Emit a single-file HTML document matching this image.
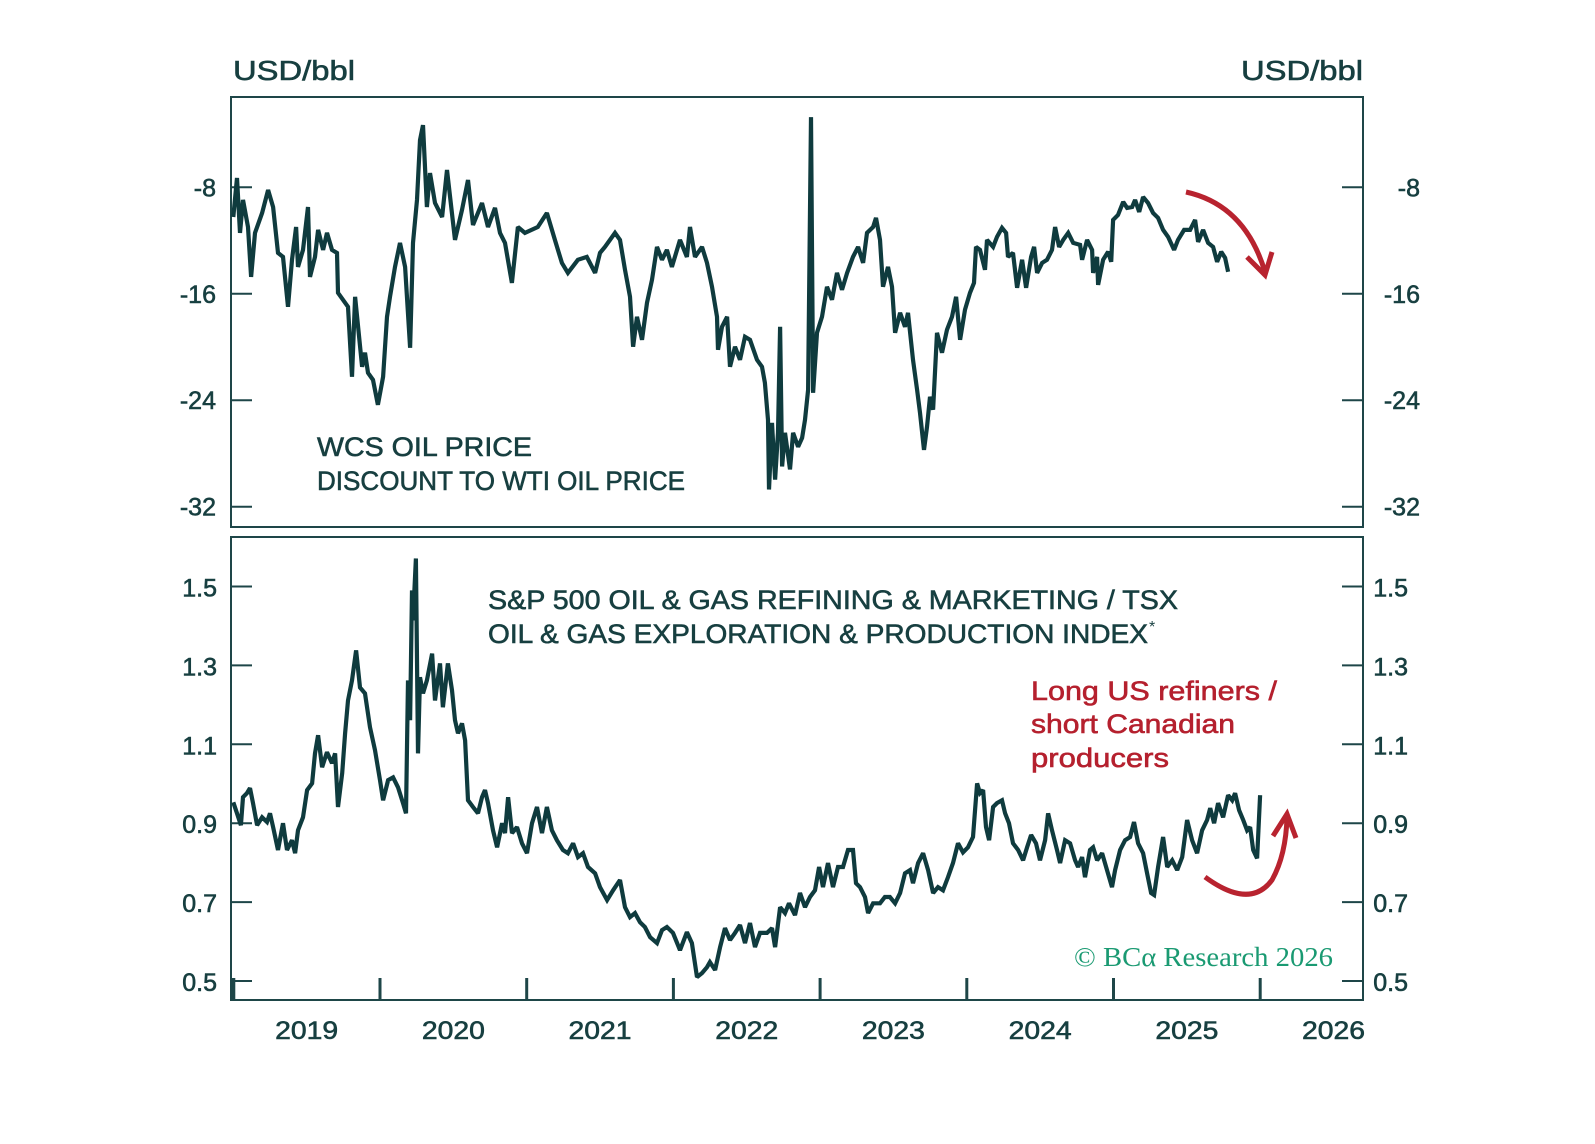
<!DOCTYPE html>
<html><head><meta charset="utf-8">
<style>
html,body{margin:0;padding:0;background:#fff;}
svg{display:block;font-family:"Liberation Sans",sans-serif;}
#g-text text, #g-axes text{stroke-width:0.6px;}
</style></head>
<body>
<svg id="chart" width="1595" height="1144" viewBox="0 0 1595 1144" xmlns="http://www.w3.org/2000/svg">
<rect x="0" y="0" width="1595" height="1144" fill="#fff"/>
<g id="g-frames"></g>
<g id="g-axes"></g>
<g id="g-series"></g>
<g id="g-text">
<text x="233" y="80" font-size="28" fill="#173f40" stroke="#173f40" textLength="122" lengthAdjust="spacingAndGlyphs">USD/bbl</text>
<text x="1241" y="80" font-size="28" fill="#173f40" stroke="#173f40" textLength="122" lengthAdjust="spacingAndGlyphs">USD/bbl</text>
<text x="317" y="456" font-size="27" fill="#173f40" stroke="#173f40" textLength="215" lengthAdjust="spacingAndGlyphs">WCS OIL PRICE</text>
<text x="317" y="490" font-size="27" fill="#173f40" stroke="#173f40" textLength="368" lengthAdjust="spacingAndGlyphs">DISCOUNT TO WTI OIL PRICE</text>
<text x="488" y="609" font-size="27" fill="#173f40" stroke="#173f40" textLength="690" lengthAdjust="spacingAndGlyphs">S&amp;P 500 OIL &amp; GAS REFINING &amp; MARKETING / TSX</text>
<text x="488" y="643" font-size="27" fill="#173f40" stroke="#173f40" textLength="660" lengthAdjust="spacingAndGlyphs">OIL &amp; GAS EXPLORATION &amp; PRODUCTION INDEX</text>
<text x="1149" y="632" font-size="16" fill="#173f40">*</text>
<text x="1031" y="700" font-size="27" fill="#b5202e" stroke="#b5202e" textLength="246" lengthAdjust="spacingAndGlyphs">Long US refiners /</text>
<text x="1031" y="733" font-size="27" fill="#b5202e" stroke="#b5202e" textLength="204" lengthAdjust="spacingAndGlyphs">short Canadian</text>
<text x="1031" y="767" font-size="27" fill="#b5202e" stroke="#b5202e" textLength="138" lengthAdjust="spacingAndGlyphs">producers</text>
<text x="1074" y="966" font-size="27" fill="#1a9a72" font-family="Liberation Serif, serif" textLength="259" lengthAdjust="spacingAndGlyphs">© BCα Research 2026</text>
</g>
<g id="g-arrows" fill="none" stroke="#b8232f" stroke-width="5" stroke-linecap="butt">
<path d="M1186,192 Q1245,205 1265,272"/>
<path d="M1247,257 L1265,275 L1272,252"/>
<path d="M1205,877 Q1250,910 1272,880 Q1286,855 1287,817"/>
<path d="M1273,836 L1287,814 L1296,838"/>
</g>
</svg>
<script>
// ---- data ----
const topDates = [2019.000,2019.025,2019.046,2019.066,2019.100,2019.121,2019.148,2019.196,2019.237,2019.271,2019.305,2019.339,2019.373,2019.400,2019.428,2019.441,2019.475,2019.509,2019.523,2019.557,2019.578,2019.612,2019.639,2019.673,2019.707,2019.714,2019.782,2019.809,2019.830,2019.878,2019.898,2019.918,2019.952,2019.986,2020.021,2020.048,2020.068,2020.102,2020.136,2020.171,2020.205,2020.225,2020.252,2020.273,2020.293,2020.320,2020.341,2020.375,2020.423,2020.457,2020.511,2020.559,2020.600,2020.634,2020.695,2020.736,2020.784,2020.818,2020.852,2020.899,2020.940,2020.988,2021.076,2021.138,2021.192,2021.240,2021.281,2021.349,2021.410,2021.466,2021.500,2021.534,2021.602,2021.636,2021.670,2021.704,2021.725,2021.752,2021.786,2021.820,2021.854,2021.888,2021.922,2021.956,2021.990,2022.045,2022.092,2022.113,2022.147,2022.195,2022.229,2022.263,2022.297,2022.304,2022.331,2022.366,2022.386,2022.420,2022.454,2022.488,2022.522,2022.570,2022.604,2022.624,2022.645,2022.652,2022.672,2022.693,2022.713,2022.727,2022.741,2022.761,2022.795,2022.816,2022.850,2022.877,2022.897,2022.918,2022.938,2022.952,2022.979,2023.013,2023.047,2023.081,2023.115,2023.149,2023.184,2023.224,2023.259,2023.293,2023.320,2023.361,2023.381,2023.408,2023.429,2023.463,2023.490,2023.511,2023.545,2023.579,2023.599,2023.633,2023.661,2023.681,2023.708,2023.729,2023.749,2023.770,2023.797,2023.831,2023.865,2023.899,2023.927,2023.954,2023.988,2024.022,2024.049,2024.063,2024.090,2024.124,2024.138,2024.179,2024.206,2024.240,2024.268,2024.281,2024.315,2024.343,2024.377,2024.404,2024.438,2024.459,2024.479,2024.513,2024.547,2024.581,2024.602,2024.629,2024.657,2024.691,2024.725,2024.772,2024.786,2024.820,2024.854,2024.861,2024.888,2024.895,2024.929,2024.963,2024.984,2024.997,2025.031,2025.066,2025.093,2025.127,2025.147,2025.175,2025.202,2025.236,2025.270,2025.304,2025.338,2025.372,2025.413,2025.440,2025.481,2025.522,2025.556,2025.577,2025.611,2025.645,2025.679,2025.706,2025.734,2025.761,2025.781];
const topValues = [-10.23,-7.30,-11.43,-8.95,-10.98,-14.73,-11.43,-9.93,-8.20,-9.48,-12.93,-13.23,-16.98,-13.45,-10.98,-13.98,-12.70,-9.48,-14.73,-13.23,-11.20,-12.70,-11.43,-12.70,-12.93,-15.93,-16.98,-22.24,-16.23,-21.49,-20.43,-21.94,-22.47,-24.34,-22.24,-17.73,-16.23,-13.98,-12.18,-13.98,-20.06,-12.18,-8.95,-4.45,-3.33,-9.48,-6.93,-9.18,-10.23,-6.70,-11.95,-9.70,-7.45,-10.83,-9.18,-10.98,-9.55,-11.43,-12.18,-15.18,-10.98,-11.43,-10.98,-9.93,-11.95,-13.68,-14.43,-13.45,-13.23,-14.43,-12.93,-12.48,-11.43,-11.95,-14.20,-16.23,-19.98,-17.73,-19.46,-16.68,-14.95,-12.48,-13.45,-12.70,-13.98,-11.95,-13.23,-10.98,-13.23,-12.48,-13.68,-15.48,-17.73,-20.21,-18.48,-17.73,-21.49,-19.98,-20.96,-19.23,-19.46,-20.96,-21.49,-22.69,-25.47,-30.71,-25.70,-29.96,-26.45,-18.48,-28.98,-26.45,-29.20,-26.45,-27.50,-26.83,-25.47,-23.22,-2.73,-23.44,-18.93,-17.73,-15.48,-16.45,-14.43,-15.70,-14.43,-13.23,-12.48,-13.68,-11.43,-10.98,-10.30,-11.95,-15.48,-13.98,-15.48,-18.93,-17.43,-18.48,-17.43,-20.96,-23.22,-24.94,-27.73,-26.00,-23.74,-24.71,-18.93,-20.43,-18.70,-17.73,-16.23,-19.46,-17.20,-15.93,-15.18,-12.48,-12.70,-14.20,-11.95,-12.48,-11.73,-11.05,-11.43,-13.23,-12.93,-15.55,-13.45,-15.55,-13.23,-12.48,-14.43,-13.68,-13.45,-12.70,-10.98,-12.48,-11.95,-11.43,-12.18,-12.33,-13.45,-11.95,-12.70,-14.43,-13.23,-15.33,-13.45,-12.85,-13.60,-10.45,-10.08,-9.10,-9.55,-9.48,-8.95,-9.85,-8.73,-9.18,-9.93,-10.30,-11.20,-11.73,-12.70,-11.95,-11.20,-11.20,-10.45,-12.10,-11.20,-12.18,-12.48,-13.60,-12.85,-13.30,-14.35];
const botDates = [2019.000,2019.025,2019.052,2019.066,2019.093,2019.114,2019.134,2019.162,2019.196,2019.230,2019.250,2019.271,2019.305,2019.339,2019.366,2019.400,2019.421,2019.441,2019.475,2019.503,2019.537,2019.557,2019.578,2019.605,2019.639,2019.673,2019.694,2019.714,2019.742,2019.762,2019.782,2019.809,2019.837,2019.864,2019.898,2019.932,2019.966,2020.000,2020.021,2020.055,2020.089,2020.123,2020.157,2020.177,2020.191,2020.205,2020.218,2020.225,2020.245,2020.259,2020.273,2020.293,2020.320,2020.355,2020.375,2020.409,2020.429,2020.463,2020.491,2020.511,2020.532,2020.559,2020.580,2020.600,2020.634,2020.668,2020.695,2020.716,2020.736,2020.770,2020.798,2020.832,2020.852,2020.873,2020.900,2020.934,2020.968,2021.002,2021.036,2021.070,2021.104,2021.138,2021.172,2021.206,2021.247,2021.281,2021.316,2021.350,2021.384,2021.418,2021.466,2021.500,2021.548,2021.589,2021.636,2021.670,2021.704,2021.738,2021.772,2021.806,2021.841,2021.888,2021.922,2021.956,2021.997,2022.045,2022.092,2022.126,2022.161,2022.195,2022.229,2022.249,2022.284,2022.318,2022.352,2022.386,2022.420,2022.454,2022.488,2022.522,2022.556,2022.590,2022.638,2022.672,2022.693,2022.727,2022.761,2022.788,2022.829,2022.863,2022.897,2022.931,2022.965,2022.993,2023.020,2023.054,2023.088,2023.122,2023.156,2023.190,2023.224,2023.245,2023.272,2023.306,2023.327,2023.361,2023.408,2023.442,2023.476,2023.511,2023.545,2023.579,2023.613,2023.633,2023.668,2023.702,2023.736,2023.770,2023.804,2023.838,2023.872,2023.906,2023.940,2023.974,2024.008,2024.042,2024.070,2024.090,2024.111,2024.131,2024.152,2024.179,2024.206,2024.240,2024.261,2024.288,2024.315,2024.350,2024.384,2024.411,2024.438,2024.472,2024.499,2024.534,2024.554,2024.581,2024.615,2024.636,2024.670,2024.704,2024.738,2024.759,2024.786,2024.806,2024.840,2024.861,2024.888,2024.922,2024.956,2024.990,2025.011,2025.045,2025.079,2025.113,2025.140,2025.168,2025.202,2025.229,2025.256,2025.277,2025.304,2025.338,2025.366,2025.400,2025.434,2025.468,2025.502,2025.536,2025.570,2025.604,2025.638,2025.659,2025.686,2025.713,2025.747,2025.781,2025.809,2025.829,2025.856,2025.884,2025.911,2025.931,2025.952,2025.979,2025.999];
const botValues = [0.953,0.925,0.895,0.966,0.976,0.989,0.951,0.895,0.915,0.903,0.925,0.890,0.832,0.900,0.832,0.857,0.824,0.882,0.915,0.984,1.001,1.077,1.123,1.042,1.080,1.052,1.077,0.941,1.027,1.128,1.211,1.262,1.338,1.244,1.229,1.143,1.085,1.009,0.958,1.009,1.016,0.991,0.951,0.925,1.262,1.161,1.490,1.414,1.571,1.077,1.270,1.229,1.262,1.330,1.211,1.305,1.194,1.305,1.237,1.161,1.128,1.153,1.110,0.958,0.941,0.925,0.966,0.984,0.951,0.882,0.839,0.900,0.875,0.966,0.875,0.890,0.849,0.824,0.900,0.941,0.875,0.941,0.882,0.857,0.832,0.824,0.849,0.814,0.824,0.789,0.773,0.738,0.705,0.730,0.756,0.687,0.662,0.672,0.649,0.637,0.611,0.596,0.629,0.637,0.622,0.578,0.624,0.596,0.510,0.520,0.535,0.548,0.528,0.586,0.634,0.604,0.622,0.642,0.596,0.647,0.586,0.622,0.622,0.634,0.586,0.687,0.672,0.697,0.667,0.723,0.687,0.713,0.730,0.789,0.738,0.799,0.738,0.789,0.789,0.832,0.832,0.748,0.738,0.713,0.672,0.697,0.697,0.713,0.713,0.697,0.723,0.773,0.781,0.748,0.799,0.824,0.781,0.723,0.738,0.730,0.763,0.799,0.849,0.826,0.839,0.865,1.001,0.976,0.984,0.890,0.857,0.941,0.951,0.958,0.925,0.900,0.849,0.832,0.806,0.839,0.870,0.849,0.806,0.857,0.925,0.882,0.832,0.799,0.857,0.849,0.806,0.789,0.814,0.763,0.832,0.839,0.806,0.824,0.781,0.738,0.781,0.832,0.857,0.865,0.903,0.849,0.824,0.773,0.723,0.718,0.789,0.865,0.789,0.806,0.781,0.814,0.908,0.857,0.824,0.882,0.908,0.938,0.900,0.951,0.915,0.971,0.958,0.976,0.933,0.908,0.882,0.890,0.832,0.811,0.971];
const topTicks = [-8,-16,-24,-32];
const topTickLabels = ["-8","-16","-24","-32"];
const botTicks = [1.5,1.3,1.1,0.9,0.7,0.5];
const botTickLabels = ["1.5","1.3","1.1","0.9","0.7","0.5"];
const years = [2019,2020,2021,2022,2023,2024,2025,2026];

// ---- axes ----
const NS = "http://www.w3.org/2000/svg";
const X0 = 231, X1 = 1363;
const TOP = {y0: 97, y1: 527};
const BOT = {y0: 537, y1: 1000};
function xScale(t){ return 233.3 + (t - 2019) * 146.7; }
function yTop(v){ return 187.3 + (-8 - v) * (106.47/8); }
function yBot(v){ return 981 - (v - 0.5) * 394.5; }
const C = "#1e4648";
const TC = "#173f40";
function mk(tag, attrs, parent){
  const e = document.createElementNS(NS, tag);
  for (const k in attrs) e.setAttribute(k, attrs[k]);
  parent.appendChild(e);
  return e;
}
const gF = document.getElementById('g-frames');
const gA = document.getElementById('g-axes');
const gS = document.getElementById('g-series');

const f1 = mk('rect', {x:X0, y:TOP.y0, width:X1-X0, height:TOP.y1-TOP.y0, fill:'none', stroke:C, 'stroke-width':2}, gF);


const f2 = mk('rect', {x:X0, y:BOT.y0, width:X1-X0, height:BOT.y1-BOT.y0, fill:'none', stroke:C, 'stroke-width':2}, gF);



topTicks.forEach((v, i) => {
  const y = yTop(v);
  const l = mk('line', {x1:X0, x2:X0+21, y1:y, y2:y, stroke:C, 'stroke-width':2}, gA);
  
  
  const r = mk('line', {x1:X1-21, x2:X1, y1:y, y2:y, stroke:C, 'stroke-width':2}, gA);
  
  
  const tl = mk('text', {x:216, y:y+9, 'text-anchor':'end', 'font-size':25, fill:TC, stroke:TC}, gA);
  tl.textContent = topTickLabels[i];
  
  
  const tr = mk('text', {x:1420, y:y+9, 'text-anchor':'end', 'font-size':25, fill:TC, stroke:TC}, gA);
  tr.textContent = topTickLabels[i];
  
  
});
botTicks.forEach((v, i) => {
  const y = yBot(v);
  const l = mk('line', {x1:X0, x2:X0+21, y1:y, y2:y, stroke:C, 'stroke-width':2}, gA);
  
  
  const r = mk('line', {x1:X1-21, x2:X1, y1:y, y2:y, stroke:C, 'stroke-width':2}, gA);
  
  
  const tl = mk('text', {x:217, y:y+10, 'text-anchor':'end', 'font-size':25, fill:TC, stroke:TC}, gA);
  tl.textContent = botTickLabels[i];
  
  
  const tr = mk('text', {x:1408, y:y+10, 'text-anchor':'end', 'font-size':25, fill:TC, stroke:TC}, gA);
  tr.textContent = botTickLabels[i];
  
  
});
years.forEach((yr) => {
  const x = xScale(yr);
  if (x <= X1) {
    const t = mk('line', {x1:x, x2:x, y1:BOT.y1, y2:BOT.y1-22, stroke:C, 'stroke-width':(yr===2019?4:3)}, gA);
    
    
  }
  const lab = mk('text', {x:xScale(yr+0.5), y:1039, 'text-anchor':'middle', 'font-size':25, fill:TC, stroke:TC, textLength:63, lengthAdjust:'spacingAndGlyphs'}, gA);
  lab.textContent = String(yr);
  
  
});

// ---- series ----
const dTop = topDates.map((t,i) => (i?'L':'M') + xScale(t).toFixed(1) + ',' + yTop(topValues[i]).toFixed(1)).join(' ');
const pTop = mk('path', {d:dTop, fill:'none', stroke:'#0f3b3e', 'stroke-width':4.2, 'stroke-linejoin':'miter', 'stroke-miterlimit':2}, gS);


const dBot = botDates.map((t,i) => (i?'L':'M') + xScale(t).toFixed(1) + ',' + yBot(botValues[i]).toFixed(1)).join(' ');
const pBot = mk('path', {d:dBot, fill:'none', stroke:'#0f3b3e', 'stroke-width':4.2, 'stroke-linejoin':'miter', 'stroke-miterlimit':2}, gS);


</script>
</body></html>
